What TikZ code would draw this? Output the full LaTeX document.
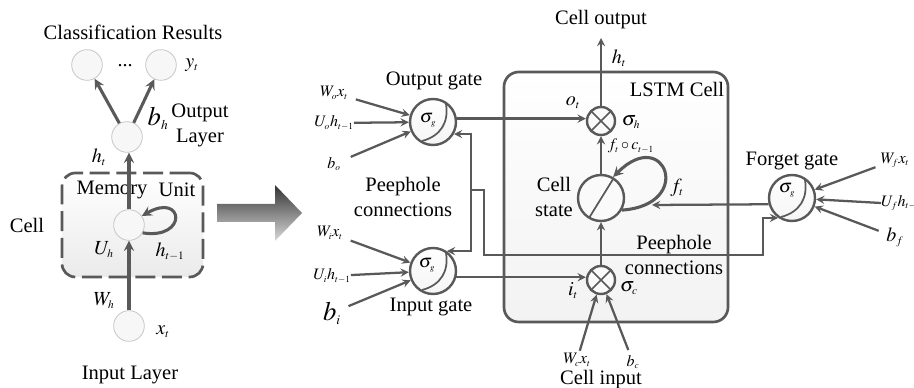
\documentclass[tikz,border=0pt]{standalone}
\usepackage{mathptmx}
\usepackage{fontspec}
\setmainfont{Liberation Serif}
\usepackage{color}
\usetikzlibrary{shapes.geometric, arrows}
\DeclareMathSizes{15}{15}{8.5}{7}
\DeclareMathSizes{14}{14}{6.5}{6}
\DeclareMathSizes{20}{20}{10}{8}
\DeclareMathSizes{12}{12}{7}{6}
\definecolor{linegray}{HTML}{595959}
\tikzstyle{word} = [font=\fontsize{15.4}{18.75}\selectfont, inner sep=0pt, text=black]
\tikzstyle{sym} = [font=\fontsize{15}{18}\selectfont, inner sep=0pt, text=black]
\tikzstyle{gatesym} = [font=\fontsize{14}{16}\selectfont, inner sep=0pt, text=black]
\tikzstyle{bigsym} = [font=\fontsize{20}{22}\selectfont, inner sep=0pt, text=black]
\tikzstyle{smallsym} = [font=\fontsize{12}{14}\selectfont, inner sep=0pt, text=black]
\tikzstyle{unit} = [circle, minimum size=23pt, inner sep=0pt, draw=black!22, line width=0.6pt, fill=black!3]
\tikzstyle{gate} = [circle, minimum size=34.5pt, inner sep=0pt, draw=linegray, line width=1.8pt, top color=white, bottom color=black!4, path picture={\draw [linegray, line width=1.3pt, shift={(path picture bounding box.center)}] (13,-18) .. controls (16,0) and (8,14) .. (-11,19);}]
\tikzstyle{mult} = [circle, minimum size=21pt, inner sep=0pt, draw=linegray, line width=1.8pt, fill=black!2, path picture={\draw [linegray, line width=1.3pt, shift={(path picture bounding box.center)}] (-11,-11) -- (11,11) (-11,11) -- (11,-11);}]
\tikzstyle{state} = [circle, minimum size=34.5pt, inner sep=0pt, draw=linegray, line width=1.8pt, fill=black!2, path picture={\draw [linegray, line width=1.3pt, shift={(path picture bounding box.center)}] (-12,20) -- (14,-22);}]
\tikzstyle{arrow} = [linegray, line width=1.7pt, ->, >=stealth]
\tikzstyle{thickarrow} = [linegray, line width=2.3pt, ->, >=stealth]

\begin{document}
\begin{tikzpicture}[x=0.75pt, y=-0.75pt]
\useasboundingbox (0,0) rectangle (914,388);
% panels
\node (lstmbox) [rectangle, rounded corners=11pt, draw=linegray, line width=2pt, top color=white, bottom color=black!5, minimum width=168pt, minimum height=187.5pt] at (616,197) {};
\node (memorybox) [rectangle, rounded corners=10pt, draw=linegray, line width=2pt, dash pattern=on 15pt off 5pt, top color=white, bottom color=black!8, minimum width=105.75pt, minimum height=78pt] at (132.5,225) {};
\shade [top color=black!80, bottom color=black!15] (217,204) -- (275,204) -- (275,185) -- (302,213) -- (275,241) -- (275,222) -- (217,222) -- cycle;

% left network
\node (yone) [unit] at (87,65) {};
\node (ytwo) [unit] at (161,65) {};
\node (hidden) [unit] at (127,137) {};
\node (memory) [unit] at (129,225) {};
\node (input) [unit] at (129,326) {};
\node (classres) [word] at (133,32) {Classification Results};
\node (dots) [sym] at (125,66) {...};
\node (ylab) [sym] at (192,65) {$y_t$};
\node (bhlab) [bigsym] at (158,118) {$b_h$};
\node (outlayer) [word, align=center] at (200,125) {Output\\Layer};
\node (htlab) [sym] at (99,157) {$h_t$};
\node (memlab) [word] at (112,190) {Memory};
\node (unitlab) [word] at (177,190) {Unit};
\node (celllab) [word] at (27,225) {Cell};
\node (uhlab) [sym] at (104,250) {$U_h$};
\node (hprev) [sym] at (170,252) {$h_{t-1}$};
\node (whlab) [sym] at (104,301) {$W_h$};
\node (xlab) [sym] at (163,332) {$x_t$};
\node (inlayer) [word] at (130,375) {Input Layer};
\draw [thickarrow] (hidden) -- (yone);
\draw [thickarrow] (hidden) -- (ytwo);
\draw [thickarrow] (memory.north) -- (memory.north |- hidden.south);
\draw [thickarrow] (input) -- (memory);
\draw [thickarrow] (memory.-30) .. controls (188,240) and (184,192) .. (memory.35);

% gates
\node (outgate) [gate] at (433,122) {};
\node (ingate) [gate, below of = outgate, node distance=111.75pt] {};
\node (forgate) [gate] at (792,198) {};
\node (outmult) [mult] at (601,121) {};
\node (cellstate) [state] at (601,198) {};
\node (inmult) [mult] at (601,280) {};
\node (outsigma) [gatesym] at (428,120) {$\sigma_g$};
\node (insigma) [gatesym] at (427,265) {$\sigma_g$};
\node (forsigma) [gatesym] at (787,190) {$\sigma_g$};

% gate labels
\node (outlab) [word] at (434,81) {Output gate};
\node (inlab) [word] at (431,307) {Input gate};
\node (forlab) [word] at (792,161) {Forget gate};
\node (peepleft) [word, align=center] at (403,197) {Peephole\\connections};
\node (peepright) [word, align=center] at (674,255) {Peephole\\connections};
\node (statelab) [word, align=center] at (554,197) {Cell\\state};
\node (lstmlab) [word] at (677,89) {LSTM Cell};
\node (cellout) [word] at (601,20) {Cell output};
\node (cellin) [word] at (601,380) {Cell input};

% symbols
\node (wolab) [smallsym] at (334,93) {$W_ox_t$};
\node (uolab) [smallsym] at (334,123) {$U_oh_{t-1}$};
\node (bolab) [smallsym] at (334,164) {$b_o$};
\node (wilab) [smallsym] at (330,233) {$W_ix_t$};
\node (uilab) [smallsym] at (332,276) {$U_ih_{t-1}$};
\node (bilab) [bigsym] at (332,313) {$b_i$};
\node (wclab) [smallsym] at (577,360) {$W_cx_t$};
\node (bclab) [smallsym] at (633,362) {$b_c$};
\node (wflab) [smallsym] at (895,160) {$W_fx_t$};
\node (uflab) [smallsym, anchor=west] at (881,203) {$U_fh_{t-1}$};
\node (bflab) [sym] at (895,237) {$b_f$};
\node (otlab) [sym] at (573,103) {$o_t$};
\node (itlab) [sym] at (573,291) {$i_t$};
\node (htout) [sym] at (619,58) {$h_t$};
\node (sigmah) [sym] at (631,122) {$\sigma_h$};
\node (sigmac) [sym] at (629,288) {$\sigma_c$};
\node (fclab) [smallsym] at (631,146) {$f_t\circ c_{t-1}$};
\node (ftlab) [sym] at (677,188) {$f_t$};

\coordinate (cellouttip) at (601,38);
\coordinate (peepjoin) at (471,190);
\coordinate (peepturn) at (484,255);
\coordinate (forturn) at (763,255);
\coordinate (loopjoin) at (652,205);

% connectors
\draw [arrow, shorten <=6pt] (wolab) -- (outgate);
\draw [arrow] (uolab) -- (outgate);
\draw [arrow, shorten <=8pt] (bolab) -- (outgate);
\draw [arrow, shorten <=6pt] (wilab) -- (ingate);
\draw [arrow] (uilab) -- (ingate);
\draw [arrow, shorten <=6pt] (bilab) -- (ingate);
\draw [arrow, shorten <=4pt] (wflab) -- (forgate);
\draw [arrow] (uflab.west) -- (forgate);
\draw [arrow, shorten <=6pt] (bflab) -- (forgate);
\draw [arrow, shorten <=2pt] (wclab) -- (inmult);
\draw [arrow, shorten <=4pt] (bclab) -- (inmult);
\draw [arrow] (outgate.8) -- (outgate.8 -| outmult.west);
\draw [arrow] (ingate.-15) -- (ingate.-15 -| inmult.west);
\draw [arrow] (outmult) -- (cellouttip);
\draw [arrow] (cellstate) -- (outmult);
\draw [arrow] (inmult) -- (cellstate);
\draw [arrow] (peepjoin) |- (outgate.-30);
\draw [arrow] (peepjoin) |- (ingate.55);
\draw [arrow] (peepjoin) -| (peepturn) -- (forturn) |- (forgate.-125);
\draw [arrow] (forgate.195) -- (loopjoin);
\draw [linegray, line width=2.3pt, ->, >=stealth] (cellstate.-30) .. controls (695,205) and (665,125) .. (cellstate.60);
\end{tikzpicture}
\end{document}
